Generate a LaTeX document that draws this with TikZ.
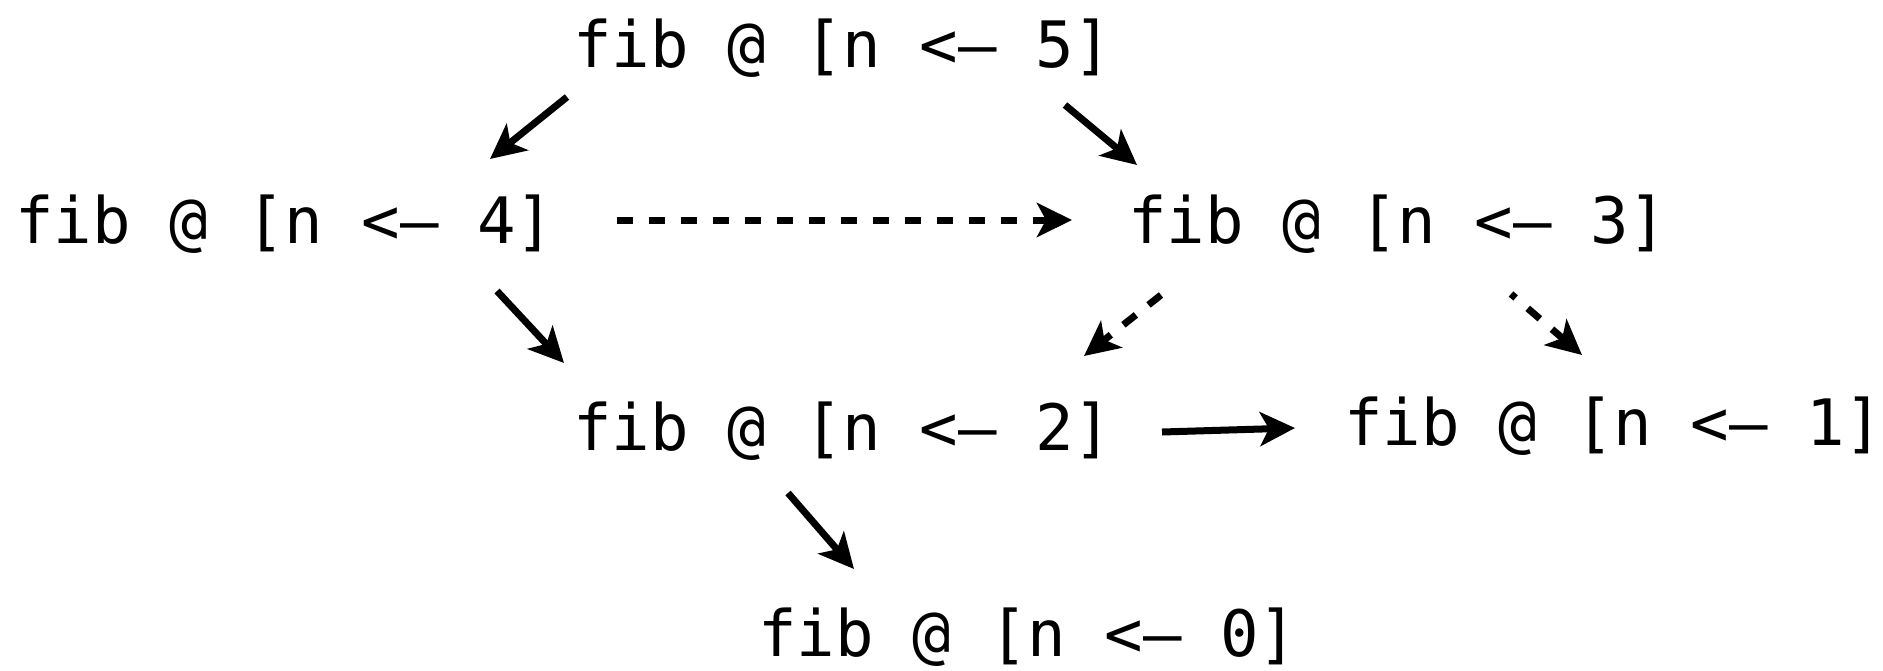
\documentclass[tikz,border=0pt]{standalone}
\usepackage{fontspec}
\setmonofont{DejaVu Sans Mono}
\usetikzlibrary{arrows.meta}

\tikzset{
  call/.style={anchor=base west, inner sep=0pt, outer sep=0pt,
    font=\ttfamily\fontsize{32}{36}\selectfont},
  edge/.style={line width=3.5pt, -{Stealth[length=17.5pt, width=17pt, inset=4.5pt]}},
  memo/.style={edge, dash pattern=on 8pt off 8pt},
}

\begin{document}
\begin{tikzpicture}[x=0.5pt, y=-0.5pt]
  \useasboundingbox (0,0) rectangle (1883,670);

  % recursive calls of fib
  \node[call] (n5) at (573,67)  {fib @ [n <– 5]};
  \node[call] (n4) at (15,243)  {fib @ [n <– 4]};
  \node[call] (n3) at (1128,243) {fib @ [n <– 3]};
  \node[call] (n2) at (573,450) {fib @ [n <– 2]};
  \node[call] (n1) at (1344,445) {fib @ [n <– 1]};
  \node[call] (n0) at (758,656) {fib @ [n <– 0]};

  % direct calls
  \draw[edge] ([shift={(-6,30)}]n5.base west) -- ([shift={(475,-84)}]n4.base west);
  \draw[edge] ([shift={(492,38)}]n5.base west) -- ([shift={(9,-78)}]n3.base west);
  \draw[edge] ([shift={(482,48)}]n4.base west) -- ([shift={(-9,-87)}]n2.base west);
  \draw[edge] ([shift={(589,-18)}]n2.base west) -- ([shift={(-49,-17)}]n1.base west);
  \draw[edge] ([shift={(215,43)}]n2.base west) -- ([shift={(96,-87)}]n0.base west);

  % memoised results reused
  \draw[memo] ([shift={(602,-23)}]n4.base west) -- ([shift={(-56,-23)}]n3.base west);
  \draw[memo] ([shift={(33,52)}]n3.base west) -- ([shift={(511,-94)}]n2.base west);
  \draw[memo, dash phase=5pt] ([shift={(383,51)}]n3.base west) -- ([shift={(238,-90)}]n1.base west);
\end{tikzpicture}
\end{document}
